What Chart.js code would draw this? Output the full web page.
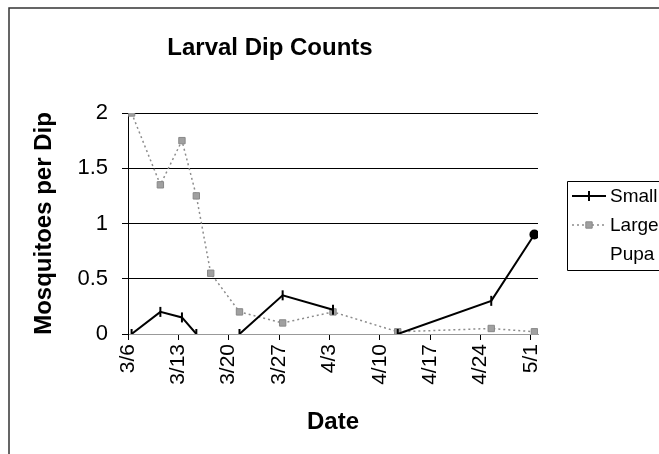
<!DOCTYPE html>
<html>
<head>
<meta charset="utf-8">
<script src="https://cdn.jsdelivr.net/npm/chart.js@4/dist/chart.umd.min.js"></script>
<style>
  html, body { margin: 0; padding: 0; background: #ffffff; overflow: hidden; }
  canvas { display: block; }
</style>
</head>
<body>
<canvas id="dips" width="659" height="454"></canvas>
<script>
// Sampling dates and mean mosquitoes per dip (null = no dip recorded)
const sampleDates = ['3/6', '3/10', '3/13', '3/15', '3/17', '3/21', '3/27', '4/3', '4/8', '4/12', '4/25', '5/1'];
const smallCounts = [0, 0.2, 0.15, 0, null, 0, 0.35, 0.22, null, 0, 0.3, 0.9];
const largeCounts = [2, 1.35, 1.75, 1.25, 0.55, 0.2, 0.1, 0.2, null, 0.02, 0.05, 0.02];
const pupaCounts  = [null, null, null, null, null, null, null, null, null, null, null, null];
const weekLabels  = ['3/6', '3/13', '3/20', '3/27', '4/3', '4/10', '4/17', '4/24', '5/1'];
const yTicks      = [0, 0.5, 1, 1.5, 2];

const FONT = "'Liberation Sans', Arial, Helvetica, sans-serif";

// Day number counted from 3/6
const monthStart = { 3: 0, 4: 31, 5: 61 };
function dayOf(label) {
  const [m, d] = label.split('/').map(Number);
  return monthStart[m] + d - 6;
}
function series(values) {
  return sampleDates.map((d, i) => ({ x: dayOf(d), y: values[i] }));
}
// Week boundaries sit at the start of each labelled day
const weekEdges = weekLabels.map(l => dayOf(l) - 0.5);

const lastIdx = smallCounts.length - 1;
const smallPointStyles = smallCounts.map((v, i) => i === lastIdx ? 'circle' : 'line');
const smallPointRadius = smallCounts.map((v, i) => i === lastIdx ? 4 : 5);

// Frame, heading and key drawn around the plot
const decorations = {
  id: 'decorations',
  afterDraw(chart) {
    const ctx = chart.ctx;
    ctx.save();
    // outer frame
    ctx.strokeStyle = '#333';
    ctx.lineWidth = 1.5;
    ctx.beginPath();
    ctx.moveTo(9, 454);
    ctx.lineTo(9, 8);
    ctx.lineTo(659, 8);
    ctx.stroke();

    // heading
    ctx.fillStyle = '#000';
    ctx.font = "bold 24px " + FONT;
    ctx.textAlign = 'center';
    ctx.textBaseline = 'middle';
    ctx.fillText('Larval Dip Counts', 270, 48);

    // key
    const bx = 567, by = 181, bh = 89;
    ctx.strokeStyle = '#000';
    ctx.lineWidth = 1;
    ctx.beginPath();
    ctx.moveTo(700, by + 0.5);
    ctx.lineTo(bx + 0.5, by + 0.5);
    ctx.lineTo(bx + 0.5, by + bh + 0.5);
    ctx.lineTo(700, by + bh + 0.5);
    ctx.stroke();
    ctx.font = "19px " + FONT;
    ctx.textAlign = 'left';
    const rows = [196, 225, 254];
    chart.data.datasets.forEach((ds, i) => {
      const y = rows[i];
      if (ds.showLine !== false) {
        ctx.save();
        ctx.strokeStyle = ds.borderColor;
        ctx.lineWidth = ds.borderWidth;
        ctx.setLineDash(ds.borderDash || []);
        ctx.beginPath();
        ctx.moveTo(572, y);
        ctx.lineTo(606, y);
        ctx.stroke();
        ctx.restore();
        ctx.save();
        ctx.fillStyle = ds.pointBackgroundColor;
        ctx.strokeStyle = ds.pointBorderColor;
        ctx.lineWidth = ds.pointBorderWidth;
        const style = Array.isArray(ds.pointStyle) ? ds.pointStyle[0] : ds.pointStyle;
        const rad = Array.isArray(ds.pointRadius) ? ds.pointRadius[0] : ds.pointRadius;
        Chart.helpers.drawPoint(ctx, {
          pointStyle: style, rotation: ds.pointRotation || 0, radius: rad,
          borderWidth: ds.pointBorderWidth
        }, 589, y);
        ctx.restore();
      }
      ctx.fillStyle = '#000';
      ctx.fillText(ds.label, 610, y + 1);
    });
    ctx.restore();
  }
};

new Chart(document.getElementById('dips'), {
  type: 'line',
  data: {
    datasets: [
      {
        label: 'Small',
        data: series(smallCounts),
        borderColor: '#000',
        backgroundColor: '#000',
        borderWidth: 2,
        pointStyle: smallPointStyles,
        pointRadius: smallPointRadius,
        pointRotation: 90,
        pointBorderColor: '#000',
        pointBackgroundColor: '#000',
        pointBorderWidth: 2,
        spanGaps: false,
        tension: 0
      },
      {
        label: 'Large',
        data: series(largeCounts),
        borderColor: '#8c8c8c',
        backgroundColor: '#999',
        borderWidth: 1.5,
        borderDash: [2, 3],
        pointStyle: 'rect',
        pointRadius: 4.5,
        pointBorderColor: '#888',
        pointBackgroundColor: '#a0a0a0',
        pointBorderWidth: 1,
        spanGaps: true,
        tension: 0
      },
      {
        label: 'Pupa',
        data: series(pupaCounts),
        borderColor: 'transparent',
        backgroundColor: 'transparent',
        pointRadius: 0,
        showLine: false
      }
    ]
  },
  options: {
    responsive: false,
    animation: false,
    devicePixelRatio: 1,
    layout: { padding: { left: 0, top: 113, right: 121, bottom: 0 } },
    plugins: {
      legend: { display: false },
      title: { display: false },
      tooltip: { enabled: false }
    },
    scales: {
      x: {
        type: 'linear',
        min: -0.5,
        max: 56.5,
        afterBuildTicks(scale) {
          scale.ticks = weekEdges.map(v => ({ value: v }));
        },
        afterFit(scale) { scale.height = 120; },
        grid: {
          drawOnChartArea: false,
          drawTicks: true,
          tickLength: 6,
          color: '#000',
          lineWidth: 1
        },
        border: { display: true, color: '#999', width: 1 },
        ticks: {
          autoSkip: false,
          maxRotation: 90,
          minRotation: 90,
          padding: 4,
          color: '#000',
          font: { family: FONT, size: 21 },
          callback: (v, i) => weekLabels[i]
        },
        title: {
          display: true,
          text: 'Date',
          color: '#000',
          font: { family: FONT, size: 24, weight: 'bold' },
          padding: { top: 0, bottom: 17 }
        }
      },
      y: {
        min: 0,
        max: 2,
        afterBuildTicks(scale) {
          scale.ticks = yTicks.map(v => ({ value: v }));
        },
        afterFit(scale) { scale.width = 128; },
        grid: {
          color: '#000',
          lineWidth: 1,
          tickLength: 6,
          drawTicks: true
        },
        border: { display: true, color: '#000', width: 1 },
        ticks: {
          padding: 14,
          color: '#000',
          font: { family: FONT, size: 22 },
          callback: v => String(v)
        },
        title: {
          display: true,
          text: 'Mosquitoes per Dip',
          color: '#000',
          font: { family: FONT, size: 24, weight: 'bold' },
          padding: { top: 30, bottom: 0 }
        }
      }
    }
  },
  plugins: [decorations]
});
</script>
</body>
</html>
